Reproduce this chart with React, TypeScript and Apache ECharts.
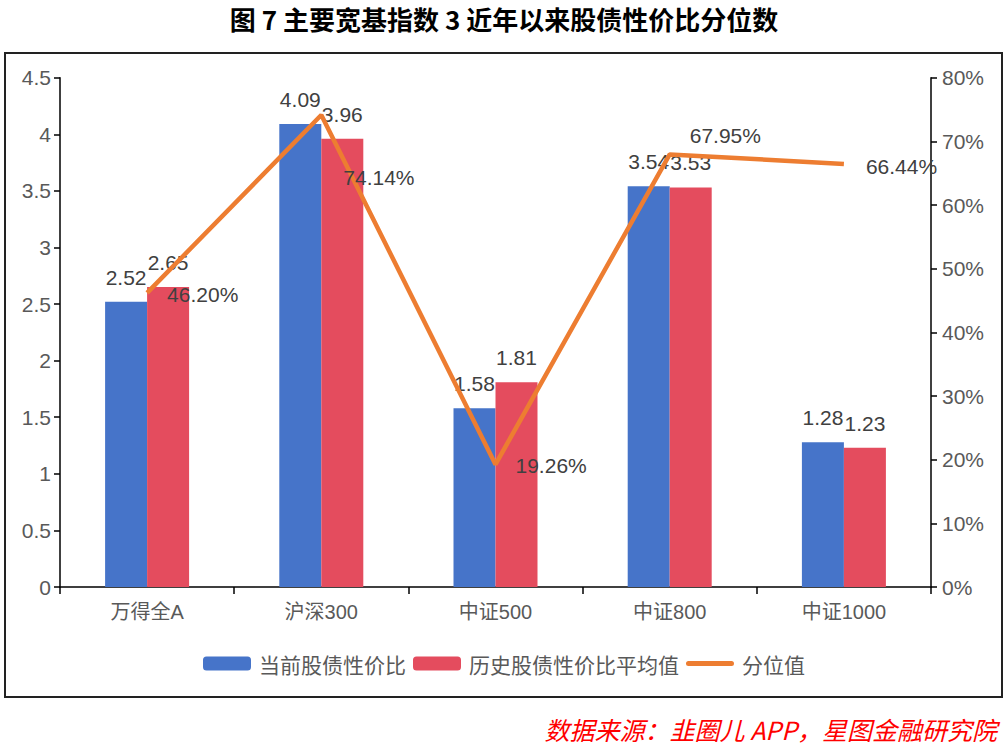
import React, { useEffect, useRef } from "react";
import * as echarts from "echarts";

const categories = ["万得全A", "沪深300", "中证500", "中证800", "中证1000"];
const currentRatio = [2.52, 4.09, 1.58, 3.54, 1.28];
const historyAvg = [2.65, 3.96, 1.81, 3.53, 1.23];
const percentile = [46.2, 74.14, 19.26, 67.95, 66.44];
const percentileLabelOffsets = [
  [0, 2],
  [2, 62],
  [0, 1],
  [0, -19],
  [2, 2],
];

const FONT = "'Liberation Sans', 'Noto Sans CJK SC', sans-serif";
const CJK = "'Noto Sans CJK SC', sans-serif";

export default function App() {
  const ref = useRef<HTMLDivElement>(null);
  useEffect(() => {
    document.body.style.margin = "0";
    const chart = echarts.init(ref.current!, null, { renderer: "svg" });
    const labelStyle = { color: "#404040", fontSize: 21, fontFamily: FONT };
    chart.setOption({
      animation: false,
      backgroundColor: "#fff",
      title: {
        text: "图 7 主要宽基指数 3 近年以来股债性价比分位数",
        left: "center",
        top: 0,
        textStyle: { fontSize: 26, fontWeight: "bold", color: "#000", fontFamily: CJK },
      },
      graphic: [
        {
          type: "rect",
          shape: { x: 5, y: 53, width: 997, height: 644 },
          style: { fill: "none", stroke: "#222", lineWidth: 2 },
          silent: true,
        },
        {
          type: "text",
          x: 997,
          y: 729,
          style: {
            text: "数据来源：韭圈儿 APP，星图金融研究院",
            fill: "#ff0000",
            fontSize: 25,
            fontStyle: "italic",
            fontFamily: CJK,
            align: "right",
            verticalAlign: "middle",
          },
        },
      ],
      legend: {
        left: "center",
        top: 648,
        itemWidth: 48,
        itemHeight: 14,
        itemGap: 7,
        textStyle: { color: "#595959", fontSize: 21, fontFamily: CJK, padding: [0, 0, 0, 3] },
        data: [
          { name: "当前股债性价比" },
          { name: "历史股债性价比平均值" },
          {
            name: "分位值",
            icon: "path://M2.5 0 H45.5 A2.5 2.5 0 0 1 45.5 5 H2.5 A2.5 2.5 0 0 1 2.5 0 Z",
          },
        ],
      },
      grid: { left: 60, right: 77, top: 77.7, bottom: 161 },
      xAxis: {
        type: "category",
        data: categories,
        axisLine: { lineStyle: { color: "#000", width: 1.5 } },
        axisTick: { show: true, length: 7, lineStyle: { color: "#000", width: 1.5 } },
        axisLabel: { color: "#595959", fontSize: 20, fontFamily: FONT, margin: 15 },
      },
      yAxis: [
        {
          type: "value",
          min: 0,
          max: 4.5,
          interval: 0.5,
          splitLine: { show: false },
          axisLine: { show: true, lineStyle: { color: "#000", width: 1.5 } },
          axisTick: { show: true, length: 6, lineStyle: { color: "#000", width: 1.5 } },
          axisLabel: { color: "#595959", fontSize: 21, fontFamily: FONT, margin: 9 },
        },
        {
          type: "value",
          min: 0,
          max: 80,
          interval: 10,
          position: "right",
          splitLine: { show: false },
          axisLine: { show: true, lineStyle: { color: "#000", width: 1.5 } },
          axisTick: { show: true, length: 6, lineStyle: { color: "#000", width: 1.5 } },
          axisLabel: { color: "#595959", fontSize: 21, fontFamily: FONT, margin: 11, formatter: "{value}%" },
        },
      ],
      series: [
        {
          name: "当前股债性价比",
          type: "bar",
          data: currentRatio,
          barWidth: 42,
          barGap: "0%",
          itemStyle: { color: "#4674C9" },
          label: { show: true, position: "top", distance: 14, ...labelStyle },
        },
        {
          name: "历史股债性价比平均值",
          type: "bar",
          data: historyAvg,
          barWidth: 42,
          barGap: "0%",
          itemStyle: { color: "#E44C5E" },
          label: { show: true, position: "top", distance: 14, ...labelStyle },
        },
        {
          name: "分位值",
          type: "line",
          yAxisIndex: 1,
          z: 5,
          symbol: "circle",
          symbolSize: 0.01,
          showSymbol: true,
          itemStyle: { color: "#ED7D31" },
          lineStyle: { color: "#ED7D31", width: 4.5 },
          data: percentile.map((v, i) => ({
            value: v,
            label: {
              show: true,
              position: "right",
              distance: 20,
              offset: percentileLabelOffsets[i],
              formatter: (p: any) => p.value.toFixed(2) + "%",
              ...labelStyle,
            },
          })),
        },
      ],
    });
    return () => chart.dispose();
  }, []);
  return <div ref={ref} style={{ width: 1008, height: 748 }} />;
}
